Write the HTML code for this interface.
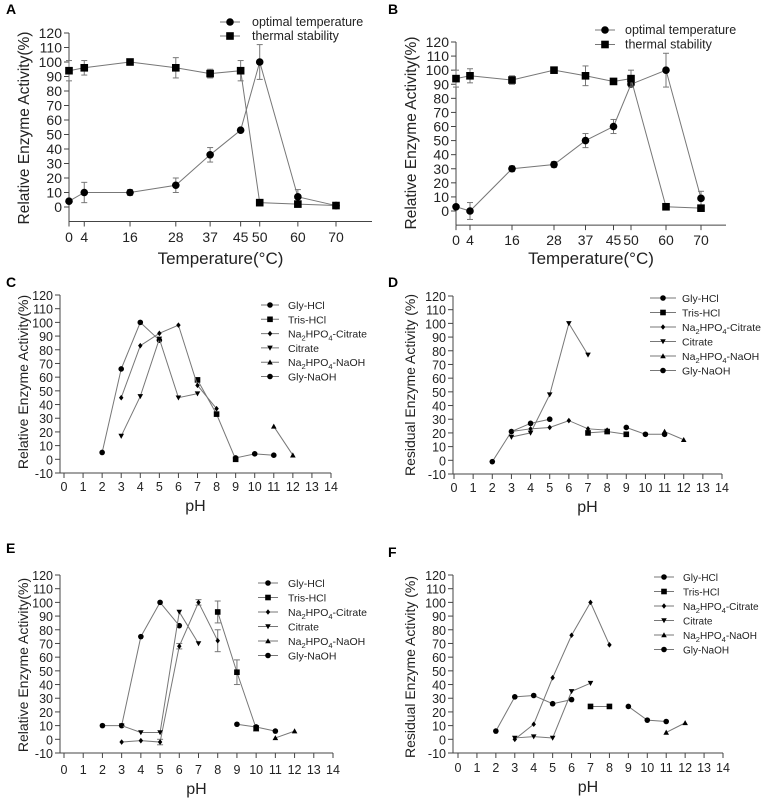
<!DOCTYPE html>
<html><head><meta charset="utf-8"><style>
body{margin:0;background:#fff}
svg{display:block;font-family:"Liberation Sans",Arial,sans-serif}
</style></head><body>
<svg id="fig" width="767" height="799" viewBox="0 0 767 799" xmlns="http://www.w3.org/2000/svg"></svg>
<script>
// ---- data ----
const tempX = [0,4,16,28,37,45,50,60,70];
const aOptY = [4,10,10,15,36,53,100,7,1];
const aOptErr = [0,7,2,5,5,1,12,5,0];
const aStabY = [94,96,100,96,92,94,3,2,1];
const aStabErr = [7,5,0,7,3,7,0,0,0];
const bOptY = [3,0,30,33,50,60,90,100,9];
const bOptErr = [0,6,2,2,5,5,0,12,5];
const bStabY = [94,96,93,100,96,92,94,3,2];
const bStabErr = [6,5,3,0,7,2,6,0,0];
const tempTicks = [0,4,16,28,37,45,50,60,70];
const phTicks = [0,1,2,3,4,5,6,7,8,9,10,11,12,13,14];
const pctTicksAB = [0,10,20,30,40,50,60,70,80,90,100,110,120];
const pctTicks = [-10,0,10,20,30,40,50,60,70,80,90,100,110,120];

const glyHclX = [2,3,4,5];
const trisX = [7,8,9];
const naCitX = [3,4,5,6,7,8];
const citX = [3,4,5,6,7];
const naNaohX = [11,12];
const glyNaohX = [9,10,11];

const cGlyHcl = [5,66,100,87];
const cTris = [58,33,0];
const cNaCit = [45,83,92,98,54,37];
const cCit = [17,46,88,45,48];
const cNaNaoh = [24,3];
const cGlyNaoh = [1,4,3];

const dGlyHcl = [-1,21,27,30];
const dTris = [20,21,19];
const dNaCit = [21,23,24,29,23,22];
const dCit = [17,20,48,100,77];
const dNaNaoh = [21,15];
const dGlyNaoh = [24,19,19];

const eGlyHclX = [2,3,4,5,6];
const eGlyHcl = [10,10,75,100,83];
const eTrisX = [8,9,10];
const eTris = [93,49,8];
const eTrisErr = [8,9,2];
const eNaCit = [-2,-1,-2,68,100,72];
const eNaCitErr = [0,0,2,2,2,8];
const eCit = [10,5,5,93,70];
const eNaNaoh = [1,6];
const eGlyNaoh = [11,9,6];

const fGlyHclX = [2,3,4,5,6];
const fGlyHcl = [6,31,32,26,29];
const fTrisX = [7,8];
const fTris = [24,24];
const fNaCit = [0,11,45,76,100,69];
const fCit = [1,2,1,35,41];
const fNaNaoh = [5,12];
const fGlyNaoh = [24,14,13];

// ---- drawing ----
const NS="http://www.w3.org/2000/svg";
const svg=document.getElementById('fig');
function mk(tag,attrs,parent){const e=document.createElementNS(NS,tag);for(const k in attrs)e.setAttribute(k,attrs[k]);(parent||svg).appendChild(e);return e;}

function marker(g,shape,cx,cy,s){
  let e;
  if(shape==='circle'){e=mk('circle',{cx:cx,cy:cy,r:s,fill:'#000'},g);}
  else if(shape==='square'){e=mk('rect',{x:cx-s,y:cy-s,width:2*s,height:2*s,fill:'#000'},g);}
  else if(shape==='diamond'){e=mk('polygon',{points:`${cx},${cy-s} ${cx+s*0.8},${cy} ${cx},${cy+s} ${cx-s*0.8},${cy}`,fill:'#000'},g);}
  else if(shape==='down'){e=mk('polygon',{points:`${cx-s},${cy-s*0.8} ${cx+s},${cy-s*0.8} ${cx},${cy+s}`,fill:'#000'},g);}
  else {e=mk('polygon',{points:`${cx-s},${cy+s*0.8} ${cx+s},${cy+s*0.8} ${cx},${cy-s}`,fill:'#000'},g);}
  
  
}

function panel(p){
  const g=mk('g',{});
  
  
  const sx=v=>p.x0+(v-p.xmin)*(p.x1-p.x0)/(p.xmax-p.xmin);
  const sy=v=>p.y0+(v-p.ymin)*(p.y1-p.y0)/(p.ymax-p.ymin);
  const lbl=mk('text',{x:p.lx,y:p.ly,'font-size':14,'font-weight':'bold'},g);lbl.textContent=p.letter;
  
  const yb=sy(-10), yt=sy(120);
  const ya=mk('line',{x1:p.ax,y1:yb,x2:p.ax,y2:yt,stroke:'#444','stroke-width':1},g);
  
  const xa=mk('line',{x1:p.ax,y1:yb,x2:p.xend,y2:yb,stroke:'#444','stroke-width':1},g);
  
  p.yticks.forEach(v=>{
    const y=sy(v);
    mk('line',{x1:p.ax-5,y1:y,x2:p.ax,y2:y,stroke:'#444'},g);
    const t=mk('text',{x:p.ax-7,y:y+5,'font-size':p.tf,'text-anchor':'end',fill:'#222'},g);t.textContent=v;
    
  });
  p.xticks.forEach(v=>{
    const x=sx(v);
    mk('line',{x1:x,y1:yb,x2:x,y2:yb+5,stroke:'#444'},g);
    const t=mk('text',{x:x,y:p.tly,'font-size':p.tf,'text-anchor':'middle',fill:'#222'},g);t.textContent=v;
    
  });
  const xt=mk('text',{x:(p.ax+p.xend)/2,y:p.xty,'font-size':p.xtf,'text-anchor':'middle',fill:'#222'},g);xt.textContent=p.xtitle;
  
  const ytt=mk('text',{x:p.ytx,y:p.yty,'font-size':p.atf,'text-anchor':'middle',fill:'#222',transform:`rotate(-90 ${p.ytx} ${p.yty})`},g);ytt.textContent=p.ytitle;
  
  p.series.forEach(s=>{
    const sg=mk('g',{},g);
    
    
    const pts=s.x.map((xv,i)=>sx(xv)+','+sy(s.y[i])).join(' ');
    mk('polyline',{points:pts,fill:'none',stroke:'#777','stroke-width':1},sg);
    if(s.err) s.x.forEach((xv,i)=>{const e=s.err[i];if(!e)return;const X=sx(xv);
      mk('line',{x1:X,y1:sy(s.y[i]-e),x2:X,y2:sy(s.y[i]+e),stroke:'#777'},sg);
      mk('line',{x1:X-3,y1:sy(s.y[i]-e),x2:X+3,y2:sy(s.y[i]-e),stroke:'#777'},sg);
      mk('line',{x1:X-3,y1:sy(s.y[i]+e),x2:X+3,y2:sy(s.y[i]+e),stroke:'#777'},sg);});
    s.x.forEach((xv,i)=>marker(sg,s.shape,sx(xv),sy(s.y[i]),p.ms));
  });
  p.legend.forEach((L,i)=>{
    const lg=mk('g',{},g);
    
    
    const y=p.legY+i*p.legDy;
    mk('line',{x1:p.legX0,y1:y,x2:p.legX1,y2:y,stroke:'#777'},lg);
    marker(lg,L.shape,(p.legX0+p.legX1)/2,y,p.ms);
    const t=mk('text',{x:p.legTx,y:y+4,'font-size':p.lf,fill:'#222'},lg);t.innerHTML=L.label;
  });
}
const phLeg=[{shape:'circle',label:'Gly-HCl'},{shape:'square',label:'Tris-HCl'},
 {shape:'diamond',label:'Na<tspan font-size="7.5" dy="3">2</tspan><tspan dy="-3">HPO</tspan><tspan font-size="7.5" dy="3">4</tspan><tspan dy="-3">-Citrate</tspan>'},
 {shape:'down',label:'Citrate'},
 {shape:'up',label:'Na<tspan font-size="7.5" dy="3">2</tspan><tspan dy="-3">HPO</tspan><tspan font-size="7.5" dy="3">4</tspan><tspan dy="-3">-NaOH</tspan>'},
 {shape:'circle',label:'Gly-NaOH'}];
const tLeg=[{shape:'circle',label:'optimal temperature'},{shape:'square',label:'thermal stability'}];

panel({letter:'A',lx:6,ly:14,ax:69,xend:372,x0:69,x1:336,xmin:0,xmax:70,y0:207,y1:33,ymin:0,ymax:120,
 yticks:pctTicksAB,xticks:tempTicks,tf:14,atf:15.5,xtf:17,tly:242,xty:264,ytx:29,yty:128,ms:3.8,
 xtitle:'Temperature(°C)',ytitle:'Relative Enzyme Activity(%)',
 series:[{key:'optimal-temperature',x:tempX,y:aOptY,err:aOptErr,shape:'circle'},{key:'thermal-stability',x:tempX,y:aStabY,err:aStabErr,shape:'square'}],
 legend:tLeg,legX0:220,legX1:240,legTx:252,legY:22,legDy:14,lf:12.5});
panel({letter:'B',lx:388,ly:14,ax:456,xend:726,x0:456,x1:701,xmin:0,xmax:70,y0:211,y1:42,ymin:0,ymax:120,
 yticks:pctTicksAB,xticks:tempTicks,tf:14,atf:15.5,xtf:17,tly:245,xty:264,ytx:416,yty:133,ms:3.8,
 xtitle:'Temperature(°C)',ytitle:'Relative Enzyme Activity(%)',
 series:[{key:'optimal-temperature',x:tempX,y:bOptY,err:bOptErr,shape:'circle'},{key:'thermal-stability',x:tempX,y:bStabY,err:bStabErr,shape:'square'}],
 legend:tLeg,legX0:595,legX1:615,legTx:625,legY:30,legDy:14.5,lf:12.5});

function phSeries(gh,ghx,tr,trx,nc,ci,nn,gn,extra){
  extra=extra||{};
  return [{key:'gly-hcl',x:ghx,y:gh,shape:'circle'},{key:'tris-hcl',x:trx,y:tr,err:extra.trErr,shape:'square'},
   {key:'na2hpo4-citrate',x:naCitX,y:nc,err:extra.ncErr,shape:'diamond'},{key:'citrate',x:citX,y:ci,shape:'down'},
   {key:'na2hpo4-naoh',x:naNaohX,y:nn,shape:'up'},{key:'gly-naoh',x:glyNaohX,y:gn,shape:'circle'}];
}
panel({letter:'C',lx:6,ly:287,ax:60,xend:331,x0:64,x1:331,xmin:0,xmax:14,y0:473,y1:295,ymin:-10,ymax:120,
 yticks:pctTicks,xticks:phTicks,tf:12.5,atf:14,xtf:16,tly:491,xty:511,ytx:28,yty:382,ms:2.8,
 xtitle:'pH',ytitle:'Relative Enzyme Activity(%)',
 series:phSeries(cGlyHcl,glyHclX,cTris,trisX,cNaCit,cCit,cNaNaoh,cGlyNaoh),
 legend:phLeg,legX0:261,legX1:279,legTx:288,legY:305,legDy:14.3,lf:10.5});
panel({letter:'D',lx:388,ly:287,ax:453,xend:722,x0:454,x1:722,xmin:0,xmax:14,y0:474,y1:296,ymin:-10,ymax:120,
 yticks:pctTicks,xticks:phTicks,tf:12.5,atf:14,xtf:16,tly:492,xty:512,ytx:415,yty:385,ms:2.8,
 xtitle:'pH',ytitle:'Residual Enzyme Activity (%)',
 series:phSeries(dGlyHcl,glyHclX,dTris,trisX,dNaCit,dCit,dNaNaoh,dGlyNaoh),
 legend:phLeg,legX0:650,legX1:676,legTx:682,legY:298,legDy:14.5,lf:10.5});
panel({letter:'E',lx:6,ly:553,ax:60,xend:333,x0:64,x1:333,xmin:0,xmax:14,y0:753,y1:575,ymin:-10,ymax:120,
 yticks:pctTicks,xticks:phTicks,tf:12.5,atf:14,xtf:16,tly:774,xty:794,ytx:28,yty:665,ms:2.8,
 xtitle:'pH',ytitle:'Relative Enzyme Activity(%)',
 series:phSeries(eGlyHcl,eGlyHclX,eTris,eTrisX,eNaCit,eCit,eNaNaoh,eGlyNaoh,{trErr:eTrisErr,ncErr:eNaCitErr}),
 legend:phLeg,legX0:258,legX1:278,legTx:288,legY:583,legDy:14.5,lf:10.5});
panel({letter:'F',lx:388,ly:557,ax:453,xend:723,x0:458,x1:723,xmin:0,xmax:14,y0:753,y1:575,ymin:-10,ymax:120,
 yticks:pctTicks,xticks:phTicks,tf:12.5,atf:14,xtf:16,tly:772,xty:792,ytx:415,yty:667,ms:2.8,
 xtitle:'pH',ytitle:'Residual Enzyme Activity (%)',
 series:phSeries(fGlyHcl,fGlyHclX,fTris,fTrisX,fNaCit,fCit,fNaNaoh,fGlyNaoh),
 legend:phLeg,legX0:654,legX1:674,legTx:683,legY:577,legDy:14.5,lf:10});
</script>
</body></html>
